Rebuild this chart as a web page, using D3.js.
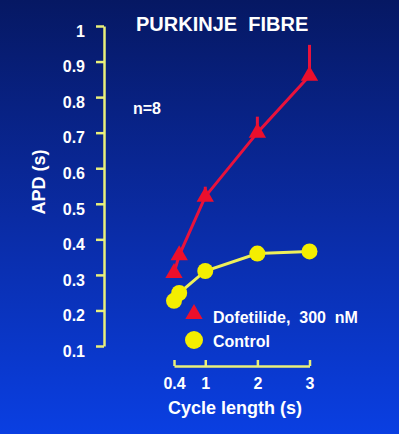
<!DOCTYPE html>
<html><head><meta charset="utf-8">
<script src="https://cdn.jsdelivr.net/npm/d3@7"></script>
<style>
html,body{margin:0;padding:0;background:#0a2aa8;}
svg{display:block;}
text{font-family:"Liberation Sans",Arial,sans-serif;font-weight:bold;fill:#ffffff;}
</style></head>
<body>
<svg id="chart" width="399" height="434"></svg>
<script>
// ---- data ----
const cycleLength = [0.4, 0.5, 1, 2, 3];
const dofetilide = [0.305, 0.355, 0.52, 0.70, 0.86];
const dofetilideErr = [0, 0, 0.028, 0.045, 0.087];
const control = [0.227, 0.249, 0.311, 0.360, 0.366];
const xTicks = [0.4, 1, 2, 3];
const yTicks = [0.1, 0.2, 0.3, 0.4, 0.5, 0.6, 0.7, 0.8, 0.9, 1];
const seriesNames = ["Dofetilide,  300  nM", "Control"];
const title = "PURKINJE  FIBRE";
const note = "n=8";
const xLabel = "Cycle length (s)";
const yLabel = "APD (s)";

const W = 399, H = 434;
const svg = d3.select("#chart");
const defs = svg.append("defs");
const grad = defs.append("linearGradient").attr("id","bg").attr("x1",0).attr("y1",0).attr("x2",0).attr("y2",1);
grad.append("stop").attr("offset","0%").attr("stop-color","#061863");
grad.append("stop").attr("offset","50%").attr("stop-color","#0a2ba3");
grad.append("stop").attr("offset","100%").attr("stop-color","#0a3fe2");
svg.append("rect").attr("width",W).attr("height",H).attr("fill","url(#bg)");

const x = d3.scaleLinear().domain([0.4, 3]).range([174, 309.5]);
const y = d3.scaleLinear().domain([0.1, 1]).range([346, 26]);

const axisColor = "#e9ef7a";

// y axis
const yAxis = svg.append("g").attr("transform","translate(104,0)")
  .call(d3.axisLeft(y).tickValues(yTicks).tickFormat(d3.format("")).tickSizeInner(8).tickSizeOuter(0).tickPadding(11));
yAxis.select(".domain").attr("stroke",axisColor).attr("stroke-width",2.5);
yAxis.selectAll(".tick line").attr("stroke",axisColor).attr("stroke-width",2.5);
yAxis.selectAll(".tick text").attr("fill","#fff").attr("font-size",16).attr("dy","0.64em")
  .style("font-family","'Liberation Sans',Arial,sans-serif").style("font-weight","bold");

// x axis
const xAxis = svg.append("g").attr("transform","translate(0,366)")
  .call(d3.axisBottom(x).tickValues(xTicks).tickFormat(d3.format("")).tickSizeInner(-6).tickSizeOuter(0).tickPadding(11.5));
xAxis.select(".domain").attr("stroke",axisColor).attr("stroke-width",2.5);
xAxis.selectAll(".tick line").attr("stroke",axisColor).attr("stroke-width",2.5);
xAxis.selectAll(".tick text").attr("fill","#fff").attr("font-size",16)
  .style("font-family","'Liberation Sans',Arial,sans-serif").style("font-weight","bold");

// titles
svg.append("text").attr("x",136).attr("y",31).attr("font-size",20).style("white-space","pre").text(title);
svg.append("text").attr("x",133).attr("y",114).attr("font-size",16).text(note);
svg.append("text").attr("x",235).attr("y",414).attr("font-size",18).attr("text-anchor","middle").text(xLabel);
svg.append("text").attr("transform","translate(45,182) rotate(-90)").attr("font-size",18).attr("text-anchor","middle").text(yLabel);

const red = "#e8123c", redMark = "#ec0f2c";
const yel = "#eef05a", yelMark = "#f4ee00";

const dData = cycleLength.map((c,i)=>({x:c,y:dofetilide[i],e:dofetilideErr[i]}));
const cData = cycleLength.map((c,i)=>({x:c,y:control[i]}));
const line = d3.line().x(d=>x(d.x)).y(d=>y(d.y));

// error bars
svg.append("g").selectAll("line").data(dData.filter(d=>d.e>0)).join("line")
  .attr("x1",d=>x(d.x)).attr("x2",d=>x(d.x)).attr("y1",d=>y(d.y)).attr("y2",d=>y(d.y+d.e))
  .attr("stroke",red).attr("stroke-width",3);

svg.append("path").datum(cData).attr("d",line).attr("fill","none").attr("stroke",yel).attr("stroke-width",3);
svg.append("path").datum(dData).attr("d",line).attr("fill","none").attr("stroke",red).attr("stroke-width",3);

const tri = d3.symbol().type(d3.symbolTriangle).size(130);
svg.append("g").selectAll("path").data(dData).join("path")
  .attr("d",tri).attr("transform",d=>`translate(${x(d.x)},${y(d.y)})`).attr("fill",redMark);
svg.append("g").selectAll("circle").data(cData).join("circle")
  .attr("cx",d=>x(d.x)).attr("cy",d=>y(d.y)).attr("r",8).attr("fill",yelMark);

// legend
const leg = svg.append("g");
const legItems = seriesNames.map((n,i)=>({name:n,i}));
leg.selectAll("text").data(legItems).join("text")
  .attr("x",213).attr("y",d=>323+d.i*24).attr("font-size",16).style("white-space","pre").text(d=>d.name);
leg.append("path").attr("d",tri).attr("transform","translate(194,314)").attr("fill",redMark);
leg.append("circle").attr("cx",194).attr("cy",340).attr("r",9).attr("fill",yelMark);
</script>
</body></html>
